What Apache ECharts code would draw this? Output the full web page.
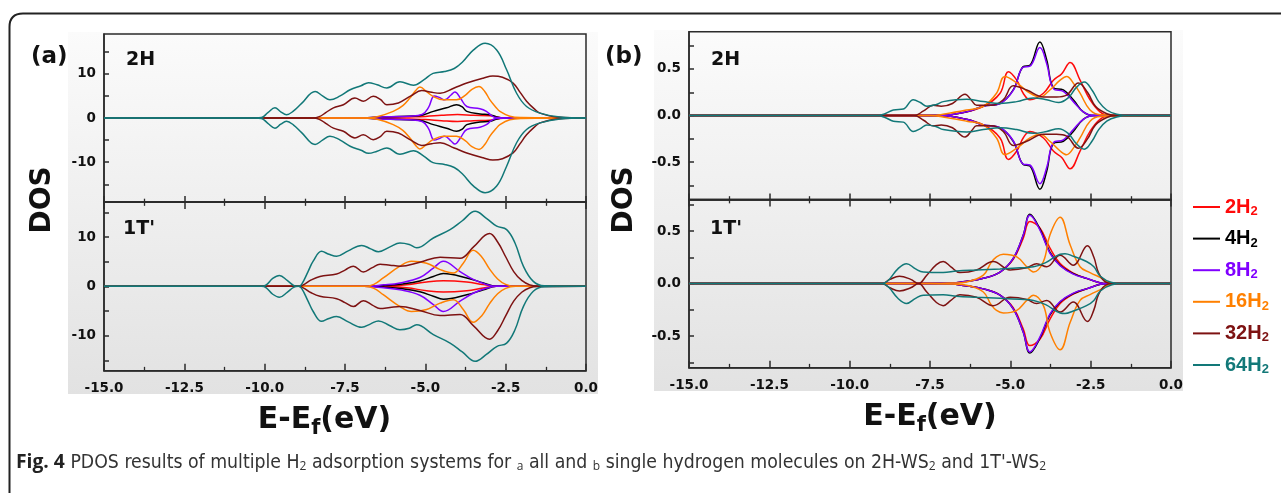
<!DOCTYPE html>
<html>
<head>
<meta charset="UTF-8">
<title>PDOS</title>
<style>
  html, body { margin: 0; padding: 0; background: #fff; }
  #container { width: 1281px; height: 493px; }
</style>
</head>
<body>
<div id="container"></div>
<script src="https://cdn.jsdelivr.net/npm/echarts@6/dist/echarts.min.js"></script>
<script type="text/javascript">
// values: [E - Ef (eV), DOS] for spin up, spin down is drawn as its mirror
var seriesNames = ['2H2', '4H2', '8H2', '16H2', '32H2', '64H2'];
var seriesColors = ['#ff0a0a', '#000000', '#8000ff', '#ff8000', '#7d1212', '#127878'];

// (a) all hydrogen, 2H
var a2H_2H2 = [[-15,0],[-6.7,0],[-6.0,0.15],[-5.5,0.25],[-5.0,0.35],[-4.5,0.6],[-4.0,0.8],[-3.5,0.6],[-3.0,0.5],[-2.75,0.2],[-2.5,0],[0,0]];
var a2H_4H2 = [[-15,0],[-6.9,0],[-6.5,0.2],[-5.8,0.35],[-5.2,0.5],[-4.75,1.5],[-4.34,2.3],[-4.03,3.0],[-3.85,2.5],[-3.71,1.5],[-3.3,0.9],[-2.99,0.75],[-2.8,0.3],[-2.6,0],[0,0]];
var a2H_8H2 = [[-15,0],[-6.9,0],[-6.5,0.2],[-6.0,0.3],[-5.5,0.4],[-5.1,0.8],[-4.9,2.4],[-4.72,5.0],[-4.55,4.6],[-4.4,4.1],[-4.2,5.2],[-4.08,5.9],[-3.9,4.4],[-3.71,2.6],[-3.3,2.1],[-3.1,1.5],[-2.95,0.6],[-2.8,0.1],[-2.5,0],[0,0]];
var a2H_16H2 = [[-15,0],[-6.9,0],[-6.5,0.3],[-6.0,1.5],[-5.7,2.8],[-5.48,4.5],[-5.3,6.2],[-5.17,7.0],[-4.95,5.9],[-4.76,4.9],[-4.44,4.1],[-4.03,4.1],[-3.75,5.2],[-3.55,6.5],[-3.33,7.1],[-3.15,6.0],[-2.99,4.1],[-2.8,2.4],[-2.68,1.5],[-2.37,0.4],[-2.0,0.1],[0,0]];
var a2H_32H2 = [[-15,0],[-8.5,0],[-8.3,0.3],[-8.1,1.2],[-7.86,2.3],[-7.55,3.0],[-7.19,4.5],[-6.93,3.8],[-6.62,4.9],[-6.4,4.2],[-6.2,3.0],[-5.84,3.4],[-5.45,5.0],[-5.11,6.2],[-4.8,5.8],[-4.54,5.6],[-4.1,6.8],[-3.71,7.9],[-3.2,9.0],[-2.9,9.5],[-2.6,9.2],[-2.27,7.9],[-2.05,5.8],[-1.85,3.8],[-1.6,2.0],[-1.43,1.1],[-0.9,0.2],[0,0]];
var a2H_64H2 = [[-15,0],[-10.3,0],[-10.1,0.1],[-9.9,1.2],[-9.68,2.3],[-9.5,1.4],[-9.32,0.75],[-9.1,1.6],[-8.85,3.3],[-8.43,6.0],[-8.2,5.0],[-7.97,4.1],[-7.65,5.0],[-7.34,6.4],[-7.0,7.3],[-6.77,8.0],[-6.5,7.5],[-6.2,6.8],[-5.79,8.2],[-5.37,7.4],[-5.05,8.6],[-4.76,10.1],[-4.4,10.5],[-4.1,11.2],[-3.85,12.6],[-3.5,15.4],[-3.14,16.9],[-2.78,15.4],[-2.47,10.9],[-2.16,5.6],[-1.85,2.6],[-1.43,1.1],[-0.81,0.2],[0,0]];

// (a) all hydrogen, 1T'
var a1T_2H2 = [[-15,0],[-6.5,0],[-5.58,0.3],[-4.96,0.9],[-4.44,1.15],[-3.71,0.9],[-3.2,0.35],[-2.8,0],[0,0]];
var a1T_4H2 = [[-15,0],[-6.9,0],[-6.2,0.2],[-5.7,0.5],[-5.17,1.1],[-4.75,2.0],[-4.44,2.6],[-3.71,1.7],[-3.19,0.7],[-2.8,0],[0,0]];
var a1T_8H2 = [[-15,0],[-6.9,0],[-6.3,0.3],[-5.79,0.7],[-5.17,1.8],[-4.75,3.7],[-4.44,5.1],[-3.92,3.0],[-3.51,1.4],[-3.09,0.35],[-2.8,0],[0,0]];
var a1T_16H2 = [[-15,0],[-6.9,0],[-6.6,0.4],[-6.31,1.7],[-5.79,4.1],[-5.43,5.1],[-4.96,4.7],[-4.54,3.4],[-4.13,2.7],[-3.82,4.7],[-3.51,7.3],[-3.25,6.0],[-3.0,3.5],[-2.75,1.5],[-2.5,0.4],[-2.2,0],[0,0]];
var a1T_32H2 = [[-15,0],[-8.95,0],[-8.8,0.3],[-8.55,1.3],[-8.28,2.0],[-7.76,2.5],[-7.5,3.3],[-7.24,4.1],[-6.93,2.9],[-6.65,3.8],[-6.41,4.5],[-6.1,4.3],[-5.79,4.1],[-5.17,4.9],[-4.54,5.9],[-3.92,5.7],[-3.5,8.0],[-3.0,10.7],[-2.75,9.0],[-2.5,6.0],[-2.25,3.0],[-2.0,1.2],[-1.75,0.3],[-1.5,0.05],[0,0]];
var a1T_64H2 = [[-15,0],[-10.1,0],[-9.95,0.3],[-9.75,1.6],[-9.54,2.2],[-9.3,1.2],[-9.1,0.2],[-8.95,0],[-8.85,0.4],[-8.65,3.0],[-8.49,5.1],[-8.23,7.1],[-8.0,6.5],[-7.76,6.1],[-7.4,7.2],[-6.98,8.3],[-6.7,7.6],[-6.46,7.0],[-6.1,8.0],[-5.79,8.8],[-5.5,8.5],[-5.27,7.8],[-4.75,9.8],[-4.23,11.5],[-3.85,13.3],[-3.45,15.2],[-3.1,13.8],[-2.78,12.2],[-2.47,11.5],[-2.21,8.8],[-1.95,4.1],[-1.64,1.0],[-1.3,0.1],[0,0]];

// (b) single hydrogen, 2H
var b2H_2H2 = [[-15,0],[-7.2,0],[-6.5,0.03],[-5.84,0.1],[-5.32,0.24],[-5.06,0.47],[-4.8,0.38],[-4.6,0.24],[-4.39,0.17],[-3.97,0.24],[-3.66,0.38],[-3.4,0.45],[-3.14,0.57],[-2.83,0.38],[-2.52,0.17],[-2.21,0.04],[-1.9,0],[0,0]];
var b2H_4H2 = [[-15,0],[-7.2,0],[-6.36,0.04],[-5.84,0.1],[-5.32,0.13],[-4.91,0.275],[-4.6,0.525],[-4.39,0.54],[-4.08,0.79],[-3.87,0.6],[-3.66,0.3],[-3.35,0.275],[-3.04,0.17],[-2.73,0.04],[-2.4,0],[0,0]];
var b2H_8H2 = [[-15,0],[-7.2,0],[-6.36,0.04],[-5.84,0.1],[-5.32,0.13],[-4.91,0.27],[-4.6,0.52],[-4.39,0.53],[-4.08,0.73],[-3.87,0.56],[-3.66,0.29],[-3.35,0.26],[-3.04,0.15],[-2.73,0.04],[-2.4,0],[0,0]];
var b2H_16H2 = [[-15,0],[-7.5,0],[-7.0,0.02],[-6.36,0.06],[-5.84,0.1],[-5.43,0.24],[-5.17,0.42],[-4.8,0.35],[-4.39,0.24],[-4.08,0.2],[-3.77,0.275],[-3.45,0.38],[-3.25,0.42],[-3.0,0.33],[-2.83,0.24],[-2.52,0.06],[-2.2,0.01],[0,0]];
var b2H_32H2 = [[-15,0],[-8.0,0],[-7.7,0.05],[-7.4,0.11],[-7.15,0.1],[-6.8,0.13],[-6.41,0.23],[-6.2,0.16],[-6.05,0.11],[-5.6,0.11],[-5.22,0.17],[-4.91,0.32],[-4.49,0.275],[-3.97,0.2],[-3.56,0.2],[-3.25,0.22],[-2.88,0.35],[-2.6,0.25],[-2.35,0.1],[-2.0,0.02],[-1.7,0],[0,0]];
var b2H_64H2 = [[-15,0],[-9.15,0],[-8.9,0.02],[-8.64,0.06],[-8.33,0.07],[-8.02,0.17],[-7.8,0.14],[-7.6,0.1],[-7.3,0.12],[-7.09,0.15],[-6.36,0.175],[-5.84,0.15],[-5.32,0.13],[-4.8,0.15],[-4.28,0.19],[-3.87,0.17],[-3.5,0.14],[-3.2,0.19],[-2.95,0.3],[-2.7,0.36],[-2.45,0.27],[-2.25,0.15],[-2.0,0.06],[-1.69,0.015],[-1.3,0],[0,0]];

// (b) single hydrogen, 1T'
var b1T_2H2 = [[-15,0],[-7.0,0],[-6.4,0.02],[-5.84,0.05],[-5.32,0.11],[-4.91,0.23],[-4.6,0.43],[-4.39,0.59],[-4.08,0.53],[-3.77,0.34],[-3.45,0.19],[-3.04,0.1],[-2.63,0.05],[-2.0,0],[0,0]];
var b1T_4H2 = [[-15,0],[-7.0,0],[-6.4,0.02],[-5.84,0.05],[-5.32,0.11],[-4.91,0.24],[-4.6,0.46],[-4.39,0.66],[-4.08,0.52],[-3.77,0.3],[-3.45,0.175],[-3.04,0.095],[-2.63,0.05],[-2.0,0],[0,0]];
var b1T_8H2 = [[-15,0],[-7.0,0],[-6.4,0.02],[-5.84,0.05],[-5.32,0.11],[-4.91,0.24],[-4.6,0.46],[-4.39,0.65],[-4.08,0.51],[-3.77,0.29],[-3.45,0.17],[-3.04,0.09],[-2.63,0.05],[-2.0,0],[0,0]];
var b1T_16H2 = [[-15,0],[-7.5,0],[-6.8,0.005],[-6.36,0.016],[-5.84,0.08],[-5.6,0.2],[-5.43,0.255],[-5.22,0.28],[-4.8,0.255],[-4.49,0.16],[-4.28,0.11],[-3.97,0.21],[-3.77,0.46],[-3.45,0.63],[-3.14,0.37],[-2.83,0.16],[-2.52,0.105],[-2.21,0.06],[-1.8,0],[0,0]];
var b1T_32H2 = [[-15,0],[-9.0,0],[-8.75,0.04],[-8.45,0.07],[-8.1,0.04],[-7.86,0],[-7.6,0.08],[-7.3,0.18],[-7.09,0.21],[-6.85,0.16],[-6.57,0.105],[-6.05,0.13],[-5.53,0.21],[-5.01,0.13],[-4.49,0.15],[-4.18,0.19],[-3.87,0.16],[-3.45,0.27],[-3.04,0.175],[-2.6,0.36],[-2.4,0.25],[-2.25,0.1],[-2.0,0.01],[-1.7,0],[0,0]];
var b1T_64H2 = [[-15,0],[-9.0,0],[-8.8,0.03],[-8.5,0.14],[-8.23,0.19],[-7.95,0.14],[-7.71,0.11],[-7.09,0.105],[-6.67,0.12],[-6.05,0.13],[-5.32,0.14],[-4.7,0.15],[-4.28,0.16],[-3.9,0.2],[-3.45,0.28],[-3.3,0.285],[-3.04,0.26],[-2.63,0.21],[-2.4,0.16],[-2.2,0.07],[-1.84,0.01],[-1.5,0],[0,0]];

var xMin = -15, xMax = 0, xStep = 2.5;
var yLabelsA = [-10, 0, 10], yTicksA = [-15, -10, -5, 0, 5, 10, 15];
var yLabelsB = [-0.5, 0, 0.5], yTicksB = [-0.75, -0.5, -0.25, 0, 0.25, 0.5, 0.75];

var FONT = '"DejaVu Sans", Verdana, sans-serif';
var NARROW = '"Liberation Sans", Arial, sans-serif';
var INK = '#2b2b2b';

(function () {
    var chart = echarts.init(document.getElementById('container'));

    var boxes = [
        { left: 104, top: 34, width: 482, height: 168, range: 19 },
        { left: 104, top: 202, width: 482, height: 168.7, range: 17.1 },
        { left: 689, top: 31.7, width: 482, height: 167.8, range: 0.9 },
        { left: 689, top: 199.5, width: 482, height: 168.2, range: 0.8 }
    ];

    var panels = [
        [a2H_2H2, a2H_4H2, a2H_8H2, a2H_16H2, a2H_32H2, a2H_64H2],
        [a1T_2H2, a1T_4H2, a1T_8H2, a1T_16H2, a1T_32H2, a1T_64H2],
        [b2H_2H2, b2H_4H2, b2H_8H2, b2H_16H2, b2H_32H2, b2H_64H2],
        [b1T_2H2, b1T_4H2, b1T_8H2, b1T_16H2, b1T_32H2, b1T_64H2]
    ];

    function xAxis(gridIndex, position, withLabels, tickLen, extra) {
        var ax = {
            type: 'value', gridIndex: gridIndex, position: position,
            min: xMin, max: xMax, interval: xStep,
            axisLine: { show: true, onZero: false, lineStyle: { color: INK, width: 1.5 } },
            axisTick: { show: true, inside: true, length: tickLen, lineStyle: { color: INK, width: 1.5 } },
            minorTick: { show: true, splitNumber: 2, length: tickLen * 0.55, lineStyle: { color: INK, width: 1.3 } },
            axisLabel: {
                show: withLabels, margin: 11, fontFamily: FONT, fontWeight: 'bold', fontSize: 13.5, color: '#111',
                formatter: function (v) { return v.toFixed(1); }
            },
            splitLine: { show: false }
        };
        return Object.assign(ax, extra || {});
    }

    function yAxis(gridIndex, range, ticks, labels, digits) {
        return {
            type: 'value', gridIndex: gridIndex, position: 'left', min: -range, max: range,
            axisLine: { show: true, onZero: false, lineStyle: { color: INK, width: 1.5 } },
            axisTick: { show: true, inside: true, length: 5, customValues: ticks, lineStyle: { color: INK, width: 1.5 } },
            axisLabel: {
                customValues: labels, margin: 8, fontFamily: FONT, fontWeight: 'bold', fontSize: 13.5, color: '#111',
                formatter: function (v) { return v.toFixed(digits); }
            },
            splitLine: { show: false }
        };
    }

    function titleName(padRight) {
        return {
            name: 'E-E{s|f}(eV)', nameLocation: 'middle', nameGap: 31,
            nameTextStyle: {
                fontFamily: FONT, fontWeight: 'bold', fontSize: 30, color: '#111',
                padding: [0, padRight, 0, 0],
                rich: { s: { fontFamily: FONT, fontWeight: 'bold', fontSize: 21, color: '#111', padding: [16, 0, 0, 0] } }
            }
        };
    }

    var grids = boxes.map(function (b) {
        return { left: b.left, top: b.top, width: b.width, height: b.height, show: true, borderColor: INK, borderWidth: 1.5, backgroundColor: 'transparent' };
    });

    var xAxes = [
        xAxis(0, 'bottom', false, 6),
        xAxis(1, 'bottom', true, 7, titleName(41)),
        xAxis(1, 'top', false, 7),
        xAxis(2, 'bottom', false, 6),
        xAxis(3, 'bottom', true, 7, titleName(0)),
        xAxis(3, 'top', false, 7)
    ];
    var xIndexOf = [0, 1, 3, 4];

    var yAxes = [
        yAxis(0, boxes[0].range, yTicksA, yLabelsA, 0),
        yAxis(1, boxes[1].range, yTicksA, yLabelsA, 0),
        yAxis(2, boxes[2].range, yTicksB, yLabelsB, 1),
        yAxis(3, boxes[3].range, yTicksB, yLabelsB, 1)
    ];

    var series = [];
    panels.forEach(function (list, g) {
        list.forEach(function (pts, i) {
            [1, -1].forEach(function (sign) {
                series.push({
                    name: seriesNames[i], type: 'line',
                    xAxisIndex: xIndexOf[g], yAxisIndex: g,
                    data: pts.map(function (d) { return [d[0], sign * d[1]]; }),
                    smooth: 0.4, symbol: 'none', showSymbol: false, silent: true,
                    z: 2 + i,
                    itemStyle: { color: seriesColors[i] },
                    lineStyle: { color: seriesColors[i], width: 1.5 }
                });
            });
        });
    });

    function label(text, x, y, size, extra) {
        return Object.assign({
            type: 'text', x: x, y: y, silent: true,
            style: {
                text: text, fontFamily: FONT, fontWeight: 'bold', fontSize: size, fill: '#111',
                align: 'left', verticalAlign: 'middle'
            }
        }, extra || {});
    }

    var bgFill = {
        type: 'linear', x: 0, y: 0, x2: 0, y2: 1,
        colorStops: [{ offset: 0, color: '#fbfbfb' }, { offset: 1, color: '#e2e2e2' }]
    };
    var frame = { stroke: '#222', lineWidth: 2, fill: null };

    var dosA = label('DOS', 42.5, 200, 28, { rotation: Math.PI / 2 });
    var dosB = label('DOS', 624.5, 200, 28, { rotation: Math.PI / 2 });
    dosA.style.align = 'center';
    dosB.style.align = 'center';

    var option = {
        animation: false,
        backgroundColor: '#ffffff',
        grid: grids,
        xAxis: xAxes,
        yAxis: yAxes,
        legend: {
            orient: 'vertical', left: 1193, top: 197, padding: 0, itemGap: 10.6,
            itemWidth: 27, itemHeight: 2, icon: 'rect',
            data: seriesNames.map(function (n, i) {
                return { name: n, textStyle: { color: seriesColors[i] } };
            }),
            formatter: function (n) { return n.slice(0, -1) + '{s|2}'; },
            textStyle: {
                fontFamily: NARROW, fontWeight: 'bold', fontSize: 20,
                rich: { s: { fontFamily: NARROW, fontWeight: 'bold', fontSize: 13, padding: [9, 0, 0, 0] } }
            }
        },
        graphic: [
            { type: 'rect', z: -10, silent: true, shape: { x: 68, y: 32, width: 530, height: 362 }, style: { fill: bgFill } },
            { type: 'rect', z: -10, silent: true, shape: { x: 654, y: 30, width: 529, height: 361 }, style: { fill: bgFill } },
            { type: 'line', silent: true, shape: { x1: 9.5, y1: 493, x2: 9.5, y2: 27 }, style: frame },
            { type: 'bezierCurve', silent: true, shape: { x1: 9.5, y1: 27, x2: 23, y2: 13.5, cpx1: 9.5, cpy1: 13.5 }, style: frame },
            { type: 'line', silent: true, shape: { x1: 23, y1: 13.5, x2: 1281, y2: 13.5 }, style: frame },
            label('(a)', 31, 57, 23),
            label('(b)', 605, 57, 23),
            label('2H', 126, 60, 19),
            label("1T'", 123, 229, 19),
            label('2H', 711, 60, 19),
            label("1T'", 710, 229, 19),
            dosA,
            dosB,
            {
                type: 'text', x: 16, y: 463, silent: true,
                style: {
                    text: '{b|Fig. 4} PDOS results of multiple H{s|2} adsorption systems for {s|a} all and {s|b} single hydrogen molecules on 2H-WS{s|2} and 1T\'-WS{s|2}',
                    fontFamily: '"Liberation Sans Narrow", "DejaVu Sans Condensed", "Open Sans", sans-serif',
                    fontSize: 19.3, fill: '#333', verticalAlign: 'middle',
                    rich: {
                        b: { fontFamily: '"Liberation Sans Narrow", "Open Sans", sans-serif', fontWeight: 'bold', fontSize: 19.3, fill: '#222' },
                        s: { fontFamily: '"Liberation Sans Narrow", "Open Sans", sans-serif', fontSize: 12, fill: '#333', padding: [8, 0, 0, 0] }
                    }
                }
            }
        ],
        series: series
    };

    chart.setOption(option);
})();
</script>
</body>
</html>
